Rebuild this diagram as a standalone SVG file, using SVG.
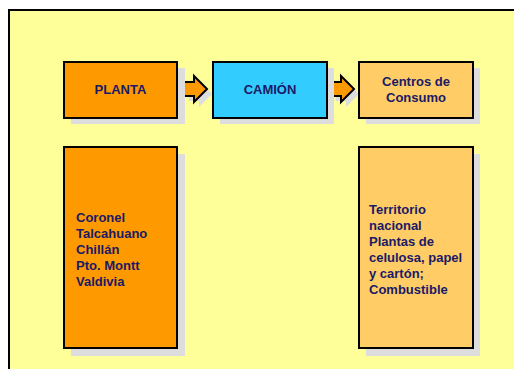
<svg xmlns="http://www.w3.org/2000/svg" width="514" height="369" viewBox="0 0 514 369">
<style>
.box{stroke:#000;stroke-width:2}
.sh{fill:#DDDDDD}
.t{font-family:"Liberation Sans",Arial,sans-serif;font-weight:bold;font-size:13px;fill:#1A1A66}
.c{text-anchor:middle}
.arr{fill:#FF9900;stroke:#000;stroke-width:2;stroke-linejoin:miter}
</style>
<defs>
<polygon id="arrowShape" points="0,0 10,0 10,-6 23,7 10,20 10,14 0,14"/>
</defs>
<rect x="0" y="0" width="514" height="369" fill="#FFFFFF"/>
<rect x="9" y="10" width="520" height="370" fill="#FFFF99" stroke="#000" stroke-width="2"/>

<g id="connectors">
  <use href="#arrowShape" x="189" y="87" class="sh"/>
  <use href="#arrowShape" x="184" y="82" class="arr"/>
  <use href="#arrowShape" x="336" y="87" class="sh"/>
  <use href="#arrowShape" x="331" y="82" class="arr"/>
</g>

<g id="planta">
  <rect x="71" y="68" width="114" height="56" class="sh"/>
  <rect x="64" y="62" width="113" height="56" fill="#FF9900" class="box"/>
  <text x="120.5" y="94" class="t c">PLANTA</text>
</g>

<g id="camion">
  <rect x="220" y="68" width="114" height="56" class="sh"/>
  <rect x="213" y="62" width="114" height="56" fill="#33CCFF" class="box"/>
  <text x="270" y="94" class="t c">CAMIÓN</text>
</g>

<g id="centros">
  <rect x="366" y="68" width="114" height="56" class="sh"/>
  <rect x="359" y="62" width="114" height="56" fill="#FFCC66" class="box"/>
  <text x="416" y="86" class="t c">Centros de</text>
  <text x="416" y="102" class="t c">Consumo</text>
</g>

<g id="origenes">
  <rect x="71" y="154" width="114" height="202" class="sh"/>
  <rect x="64" y="147" width="113" height="201" fill="#FF9900" class="box"/>
  <text class="t" x="76" y="222">Coronel</text>
  <text class="t" x="76" y="238">Talcahuano</text>
  <text class="t" x="76" y="254">Chillán</text>
  <text class="t" x="76" y="270">Pto. Montt</text>
  <text class="t" x="76" y="286">Valdivia</text>
</g>

<g id="destinos">
  <rect x="366" y="154" width="114" height="202" class="sh"/>
  <rect x="359" y="147" width="114" height="201" fill="#FFCC66" class="box"/>
  <text class="t" x="369" y="214">Territorio</text>
  <text class="t" x="369" y="230">nacional</text>
  <text class="t" x="369" y="246">Plantas de</text>
  <text class="t" x="369" y="262">celulosa, papel</text>
  <text class="t" x="369" y="278">y cartón;</text>
  <text class="t" x="369" y="294">Combustible</text>
</g>
</svg>
